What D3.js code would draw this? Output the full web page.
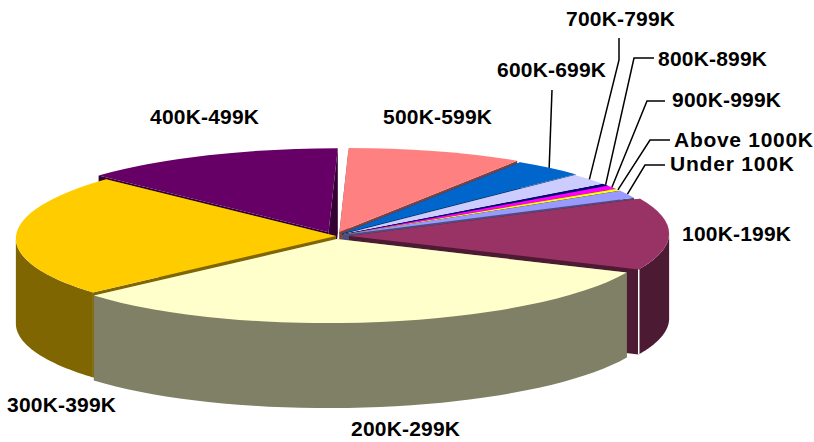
<!DOCTYPE html>
<html>
<head>
<meta charset="utf-8">
<script src="https://cdn.jsdelivr.net/npm/d3@7"></script>
<style>
  html, body { margin: 0; padding: 0; background: #fff; }
  svg { display: block; }
  text { font-family: "Liberation Sans", Arial, sans-serif; font-weight: bold; fill: #000; }
</style>
</head>
<body>
<svg width="814" height="442"></svg>
<script>
// share of each band, clockwise from the top of the pie
const categories = ["500K-599K", "600K-699K", "700K-799K", "800K-899K", "900K-999K", "Above 1000K",
                    "Under 100K", "100K-199K", "200K-299K", "300K-399K", "400K-499K"];
const shares = [8.9, 3.6, 2.2, 0.4, 0.7, 0.4, 1.5, 13.8, 31.7, 23.5, 13.2];
const colors = ["#FF8080", "#0066CC", "#CCCCFF", "#000080", "#FF00FF", "#FFFF00",
                "#9999FF", "#993366", "#FFFFCC", "#FFCC00", "#660066"];
// how far each slice is pulled out of the pie
const pull = [16, 12, 9, 9, 9, 9, 9, 14, 12, -1, 16];

// label anchor [x, baseline], and leader elbow points if the label has one
const labelPos = [[383, 124], [497, 77], [566, 26], [658, 66], [672, 107], [674, 147],
                  [670, 171], [682, 241], [351, 436], [7, 412], [150, 124]];
const leaders = [null, [[552, 90]], [[619, 38], [619, 60]], [[654, 58], [634, 58]],
                 [[665, 101], [647, 101]], [[670, 140], [650, 140]], [[665, 165], [645, 165]],
                 null, null, null, null];

const cx = 335, cy = 236, rx = 320, ry = 84, depth = 85;
const skew = -0.11; // the picture's perspective leans the back of the pie to the right
const rad = Math.PI / 180;
const visFrom = 88.3 * rad, visTo = 268.3 * rad;

const svg = d3.select("svg");
const arc = d3.arc().innerRadius(0).outerRadius(rx);
const line = d3.line();

const slices = d3.pie().sort(null).startAngle(0).endAngle(2 * Math.PI)(shares);

function shade(c) {
  const q = d3.rgb(c);
  return d3.rgb(q.r / 2, q.g / 2, q.b / 2).formatHex();
}

slices.forEach(function(s) {
  const mid = (s.startAngle + s.endAngle) / 2;
  s.ox = cx + pull[s.index] * Math.sin(mid);
  s.oy = cy - pull[s.index] * Math.cos(mid) * ry / rx;
  s.rim = function(a) {
    const dy = -ry * Math.cos(a);
    return [s.ox + rx * Math.sin(a) + skew * dy, s.oy + dy];
  };
});

// back slices first, front ones paint over them
const order = slices.slice().sort(function(a, b) {
  return Math.cos((b.startAngle + b.endAngle) / 2) - Math.cos((a.startAngle + a.endAngle) / 2);
});

const down = function(p) { return [p[0], p[1] + depth]; };

order.forEach(function(s) {
  const g = svg.append("g");
  const dark = shade(colors[s.index]);

  // cut faces
  [s.startAngle, s.endAngle].forEach(function(a) {
    const p = s.rim(a), o = [s.ox, s.oy];
    g.append("path").attr("d", line([o, p, down(p), down(o)]) + "Z").attr("fill", dark);
  });

  // outer wall
  const from = Math.max(s.startAngle, visFrom), to = Math.min(s.endAngle, visTo);
  if (to > from) {
    const pts = d3.range(0, 41).map(function(i) { return s.rim(from + (to - from) * i / 40); });
    g.append("path")
      .attr("d", line(pts.concat(pts.map(down).reverse())) + "Z")
      .attr("fill", dark);
  }

  // top
  g.append("path")
    .attr("d", arc(s))
    .attr("transform", "matrix(1,0," + (skew * ry / rx) + "," + (ry / rx) + "," + s.ox + "," + s.oy + ")")
    .attr("fill", colors[s.index]);

  // light seam on the front end of the 100K slice
  if (categories[s.index] === "100K-199K") {
    const e = s.rim(s.endAngle);
    g.append("path").attr("d", line([e, down(e)])).attr("stroke", "#fff").attr("stroke-width", 1.5);
  }
});

// leaders
slices.forEach(function(s) {
  const el = leaders[s.index];
  if (!el) return;
  const end = s.rim((s.startAngle + s.endAngle) / 2);
  svg.append("path")
    .attr("d", line(el.concat([end])))
    .attr("fill", "none")
    .attr("stroke", "#000")
    .attr("stroke-width", 1.5);
});

// labels
svg.selectAll("text.lab").data(categories).join("text")
  .attr("class", "lab")
  .attr("x", function(d, i) { return labelPos[i][0]; })
  .attr("y", function(d, i) { return labelPos[i][1]; })
  .attr("font-size", 21)
  .attr("textLength", function(d) { return d === "Above 1000K" ? 139 : d === "Under 100K" ? 124 : 109; })
  .attr("lengthAdjust", "spacing")
  .text(function(d) { return d; });
</script>
</body>
</html>
